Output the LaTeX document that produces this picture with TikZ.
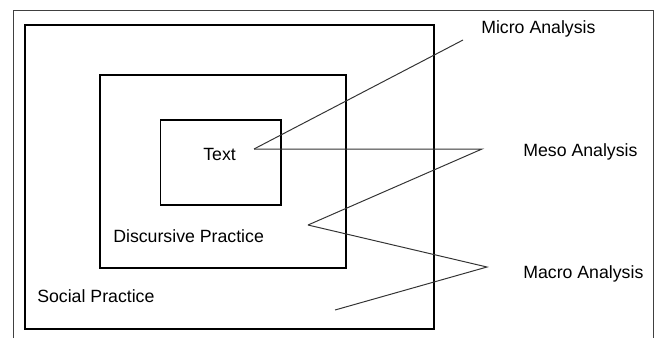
\documentclass[tikz,border=0pt]{standalone}
\usepackage{fontspec}
\setmainfont{Liberation Sans}
\usetikzlibrary{positioning}

\begin{document}
\begin{tikzpicture}[x=0.025cm,y=-0.025cm,
        level/.style={rectangle,draw,line width=1.4pt,anchor=north west,inner sep=0pt},
        lbl/.style={anchor=base west,inner sep=0pt,font=\fontsize{12.6}{15}\selectfont},
        pointer/.style={line width=0.7pt,draw=black!80}]
    \useasboundingbox (0,0) rectangle (656,338);
    \draw[black!75,line width=0.6pt] (13,338) -- (13,10) -- (653,10) -- (653,338);
    % nested levels
    \node[level,minimum width=10.225cm,minimum height=7.6cm] (social) at (24,24) {};
    \node[level,minimum width=6.15cm,minimum height=4.825cm] (discursive) at (99,74) {};
    \node[level,minimum width=3cm,minimum height=2.125cm] (text) at (159.5,119) {};
    \node[lbl] (textlbl) at (203,160.7) {Text};
    \node[lbl] (discursivelbl) at (113,242.7) {Discursive Practice};
    \node[lbl] (sociallbl) at (37,302.7) {Social Practice};
    \node[lbl] (micro) at (481,33.3) {Micro Analysis};
    \node[lbl] (meso) at (523,156.7) {Meso Analysis};
    \node[lbl] (macro) at (523,278) {Macro Analysis};
    % pointer lines
    \coordinate (txtpt) at (254,149);
    \coordinate (microend) at (463,40);
    \coordinate (mesoapex) at (482,149);
    \coordinate (mesoend) at (308,225);
    \coordinate (macroapex) at (487,267);
    \coordinate (macroend) at (335,310);
    \draw[pointer] (txtpt) -- (microend);
    \draw[pointer] (txtpt) -- (mesoapex) -- (mesoend);
    \draw[pointer] (mesoend) -- (macroapex) -- (macroend);
\end{tikzpicture}
\end{document}
